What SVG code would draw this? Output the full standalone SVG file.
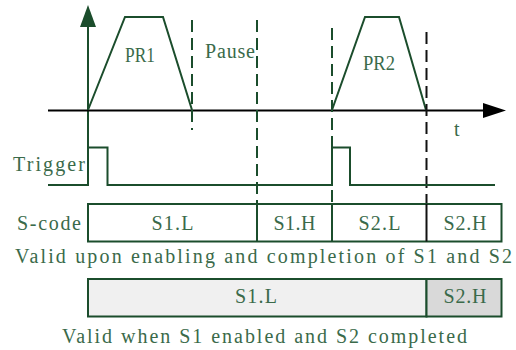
<svg xmlns="http://www.w3.org/2000/svg" width="516" height="350" viewBox="0 0 516 350">
<style>
.ln{fill:none;stroke:#1b4d2c;stroke-width:2}
.dash{fill:none;stroke:#1b4d2c;stroke-width:2;stroke-dasharray:12,6}
.dashk{fill:none;stroke:#111;stroke-width:2;stroke-dasharray:12,6}
.ax{fill:none;stroke:#000;stroke-width:2}
.box{stroke:#1b4d2c;stroke-width:2}
.t{font-family:"Liberation Serif","DejaVu Serif",serif;font-size:20px;fill:#3a6a4a}
</style>
<rect width="516" height="350" fill="#fff"/>
<g id="axes">
<line class="ln" x1="88" y1="26" x2="88" y2="185"/>
<polygon points="88,5 80,27 96,27" fill="#1b4d2c"/>
<line class="ax" x1="48" y1="110.5" x2="485" y2="110.5"/>
<polygon points="506,110.5 483,103 483,118" fill="#000"/>
<text class="t" x="454" y="136">t</text>
</g>
<g id="pr1">
<polyline class="ln" points="88,110 125,17 163,17 192,110"/>
<text class="t" x="125" y="62" textLength="30" lengthAdjust="spacingAndGlyphs">PR1</text>
</g>
<g id="pr2">
<polyline class="ln" points="332,110 365,17 399,17 426,110"/>
<text class="t" x="363" y="70" textLength="32" lengthAdjust="spacingAndGlyphs">PR2</text>
</g>
<g id="pause">
<text class="t" x="205" y="58" textLength="50" lengthAdjust="spacing">Pause</text>
</g>
<g id="connectors">
<line class="dash" x1="192" y1="20" x2="192" y2="130"/>
<line class="dash" x1="257" y1="20" x2="257" y2="204"/>
<line class="dash" x1="332" y1="28" x2="332" y2="204"/>
<line class="dashk" x1="426.5" y1="32" x2="426.5" y2="204"/>
</g>
<g id="trigger">
<text class="t" x="13" y="171" textLength="72" lengthAdjust="spacing">Trigger</text>
<polyline class="ln" points="48,185 88,185 88,147.5 107.5,147.5 107.5,185 332,185 332,147.5 350,147.5 350,185 495,185"/>
</g>
<g id="scode">
<text class="t" x="17" y="230" textLength="64" lengthAdjust="spacing">S-code</text>
<rect class="box" x="88" y="204" width="413.5" height="37.5" fill="#fff"/>
<line class="box" x1="257" y1="204" x2="257" y2="241.5"/>
<line class="box" x1="332" y1="204" x2="332" y2="241.5"/>
<line stroke="#111" stroke-width="2" x1="426.5" y1="204" x2="426.5" y2="241.5"/>
<text class="t" x="151.5" y="230" textLength="42" lengthAdjust="spacing">S1.L</text>
<text class="t" x="273.5" y="230" textLength="42" lengthAdjust="spacing">S1.H</text>
<text class="t" x="358.5" y="230" textLength="42" lengthAdjust="spacing">S2.L</text>
<text class="t" x="443.5" y="230" textLength="43" lengthAdjust="spacing">S2.H</text>
<text class="t" x="15" y="263" textLength="497" lengthAdjust="spacing">Valid upon enabling and completion of S1 and S2</text>
</g>
<g id="scode2">
<rect class="box" x="88" y="279" width="338.5" height="37.5" fill="#f0f0f0"/>
<rect class="box" x="426.5" y="279" width="75" height="37.5" fill="#d9d9d9"/>
<text class="t" x="235" y="303" textLength="42" lengthAdjust="spacing">S1.L</text>
<text class="t" x="443.5" y="303" textLength="43" lengthAdjust="spacing">S2.H</text>
<text class="t" x="62" y="343" textLength="405" lengthAdjust="spacing">Valid when S1 enabled and S2 completed</text>
</g>
</svg>
